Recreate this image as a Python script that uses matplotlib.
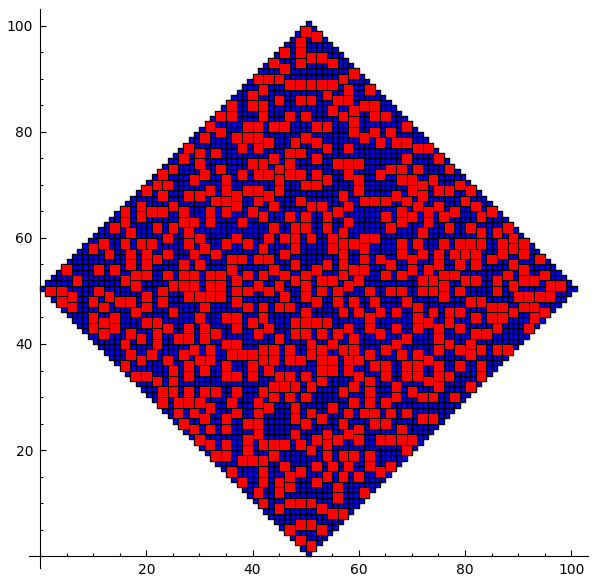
import matplotlib
matplotlib.use('Agg')
import matplotlib.pyplot as plt
from matplotlib.collections import PolyCollection
from matplotlib.ticker import MultipleLocator

# red 2x2 squares: row centre y -> centre x values
red_left = {
    97: [49], 95: [46, 49], 93: [44, 49], 92: [46], 90: [41, 43, 45], 89: [47, 49], 88: [42], 87: [40],
    86: [45, 49], 85: [36, 40, 42], 83: [34, 36, 42, 47], 81: [32, 39, 41, 44, 46], 80: [34],
    79: [31, 37, 39, 41], 78: [43, 48], 77: [28, 38, 41], 76: [30, 33, 47, 49], 75: [27, 44],
    74: [30, 40, 42, 47], 73: [25, 34, 45], 72: [23, 31, 38, 41, 43, 47, 49], 71: [29, 35, 45],
    70: [22, 24], 69: [20, 32, 35, 39, 41, 45], 68: [23, 28, 30, 37, 43], 67: [33, 35, 41, 49],
    66: [19, 25, 37, 44], 65: [16, 21, 23, 27, 32, 35, 40], 64: [19, 42, 47], 63: [16, 27, 29, 32, 38],
    62: [14, 22, 25, 44, 48], 61: [17, 28], 60: [24, 30, 37, 43, 46, 48], 59: [12, 16, 19, 21, 28, 35, 39],
    58: [10, 31, 42, 48], 57: [13, 17, 20, 24, 29, 33, 46], 56: [22, 36, 38, 41, 43],
    55: [17, 20, 27, 30, 48], 54: [5, 11, 14, 36, 44], 53: [18, 20, 24, 27, 29, 32, 34, 39, 42, 46],
    52: [7, 16, 37, 48], 51: [18, 25, 27, 29, 32, 34, 41, 45], 50: [2, 4, 11, 23, 37, 39, 43],
    49: [6, 13, 20, 28, 30, 32, 34, 46], 48: [4, 10, 15, 17, 23, 37], 47: [6, 12, 20, 31, 39, 42, 45, 47],
    46: [18, 25], 45: [10, 14, 30, 35, 37, 42], 44: [12, 20, 22, 40, 48], 43: [10, 14, 24, 28, 31, 37, 43],
    42: [12, 17, 22, 33, 41, 48], 41: [19, 26, 28, 31, 45], 40: [16, 22, 35, 37], 39: [29, 32, 42, 44, 47],
    38: [17, 21, 27, 36, 38, 40], 37: [19, 24, 30, 32, 42, 44, 47, 49], 36: [16, 28, 35, 40],
    35: [25, 31, 43], 34: [18, 20, 28, 35, 37, 40, 45, 47], 33: [22, 25], 32: [44, 46, 48],
    31: [23, 25, 28, 31, 33, 37, 42], 30: [44, 47], 29: [23, 26, 28, 30, 36, 41], 28: [32, 43, 48],
    27: [26, 29, 37, 41], 26: [31, 35, 48], 25: [27, 39, 41], 24: [29, 32, 35], 23: [41, 48], 22: [30, 39],
    21: [32, 35, 42, 44, 46, 49], 20: [39], 19: [33, 35, 44], 18: [38, 40, 42], 17: [46], 16: [36, 42, 49],
    15: [47], 14: [38, 42, 45], 13: [47], 12: [41, 45], 10: [42, 47, 49], 9: [45], 6: [49], 5: [47], 3: [49],
}
red_right = {
    99: [50], 98: [52], 94: [51, 53], 93: [55], 91: [59], 90: [57], 89: [51, 53, 55], 88: [58, 62], 87: [54],
    86: [51, 56, 58], 85: [61, 63], 84: [55, 59], 83: [50, 57, 63, 65], 82: [59], 81: [52, 54, 69],
    80: [59, 63, 66], 79: [50, 61], 78: [52, 64, 67, 69], 77: [54, 58, 71, 73], 75: [52, 69, 75],
    74: [56, 58, 60], 73: [66, 68, 71, 77], 72: [52, 58, 64], 71: [54, 60, 68, 70, 74], 70: [50, 52, 72, 79],
    69: [60, 70, 75, 77, 81], 68: [57, 67, 72], 67: [61, 63, 65, 69, 80], 66: [51, 53, 58, 71, 75, 82],
    65: [56, 68, 73, 78, 85], 64: [50, 54, 65, 70, 76, 83], 63: [58, 68, 73], 62: [50, 54, 66, 77, 81, 88],
    61: [57, 72, 83, 86], 60: [51, 55, 61, 63, 89], 59: [57, 59, 68, 71, 76, 79, 81, 83, 87, 91],
    58: [55, 61, 89], 57: [57, 68, 72, 75, 78, 80, 82, 87, 91], 56: [61, 64, 70, 85, 94],
    55: [54, 57, 66, 75, 79, 82, 89], 54: [52, 59, 61, 70, 73, 91], 53: [50, 57, 65, 68, 76, 78, 88, 95],
    52: [53, 55, 60, 72, 74, 80, 82, 86, 91, 93], 51: [50, 58, 76, 89, 96, 98],
    50: [53, 56, 62, 66, 68, 72, 74, 79, 86], 49: [50, 76, 90, 92, 94, 96], 48: [52, 56, 59, 63, 69, 81, 83],
    47: [71, 85, 87, 91, 93], 46: [50, 57, 60, 64, 67, 74, 77, 79, 89, 95], 45: [62, 71, 82, 85, 87, 93],
    44: [50, 52, 54, 73, 77], 43: [58, 62, 67, 71, 75, 79, 86, 92], 42: [50, 53, 56, 64, 82, 84],
    41: [59, 69, 75], 40: [51, 55, 67, 77, 81], 39: [53, 57, 59, 65, 75, 79, 83, 86, 88],
    38: [51, 62, 68, 71, 81], 37: [53, 55, 58, 60, 73], 36: [63, 65, 69, 71, 75, 79, 83], 35: [53, 55, 58],
    34: [50, 60, 65, 69, 71, 75, 77, 83], 33: [53, 62, 73], 32: [51, 59, 67, 75, 81], 31: [57, 62, 70],
    30: [50, 67, 72, 74, 78], 29: [59, 62, 65], 28: [55], 27: [51, 58, 61, 63, 66, 69], 26: [53, 72, 74],
    25: [50, 57, 63, 65], 24: [60, 68], 23: [54, 58], 22: [52, 56, 60, 64, 66, 68, 70], 21: [54],
    20: [51, 69], 19: [54, 57, 59, 62], 17: [52, 55, 58, 62, 66], 16: [64], 15: [54, 57, 60], 14: [52],
    13: [56], 12: [61], 11: [56], 10: [51], 9: [53], 8: [55, 57], 6: [51], 5: [53], 2: [51],
}

fig = plt.figure(figsize=(5.96, 5.82), dpi=100)
ax = fig.add_axes([29 / 596, 1 - 568 / 582, 559 / 596, 559 / 582])

# blue unit cells fill the diamond
blue = []
for i in range(101):
    for j in range(101):
        if abs(i - 50) + abs(j - 50) <= 50:
            blue.append([(i, j), (i + 1, j), (i + 1, j + 1), (i, j + 1)])
ax.add_collection(PolyCollection(blue, facecolors='#0000ff', edgecolors='black', linewidths=1.0, zorder=3))

red = []
for rows in (red_left, red_right):
    for y, xs in rows.items():
        for x in xs:
            red.append([(x - 1, y - 1), (x + 1, y - 1), (x + 1, y + 1), (x - 1, y + 1)])
ax.add_collection(PolyCollection(red, facecolors='#ff0000', edgecolors='black', linewidths=0.7, zorder=4))

ax.set_xlim(-2.07, 103.15)
ax.set_ylim(-2.26, 103.2)
ax.spines['top'].set_visible(False)
ax.spines['right'].set_visible(False)
ax.spines['left'].set_position(('data', 0))
ax.spines['bottom'].set_position(('data', 0))
ax.xaxis.set_minor_locator(MultipleLocator(5))
ax.yaxis.set_minor_locator(MultipleLocator(5))
ax.set_xticks([20, 40, 60, 80, 100])
ax.set_yticks([20, 40, 60, 80, 100])
ax.tick_params(which='major', direction='in', length=4, width=0.8, labelsize=10, pad=5)
ax.tick_params(which='minor', direction='in', length=2, width=0.8)

fig.savefig('out.png', dpi=100)
